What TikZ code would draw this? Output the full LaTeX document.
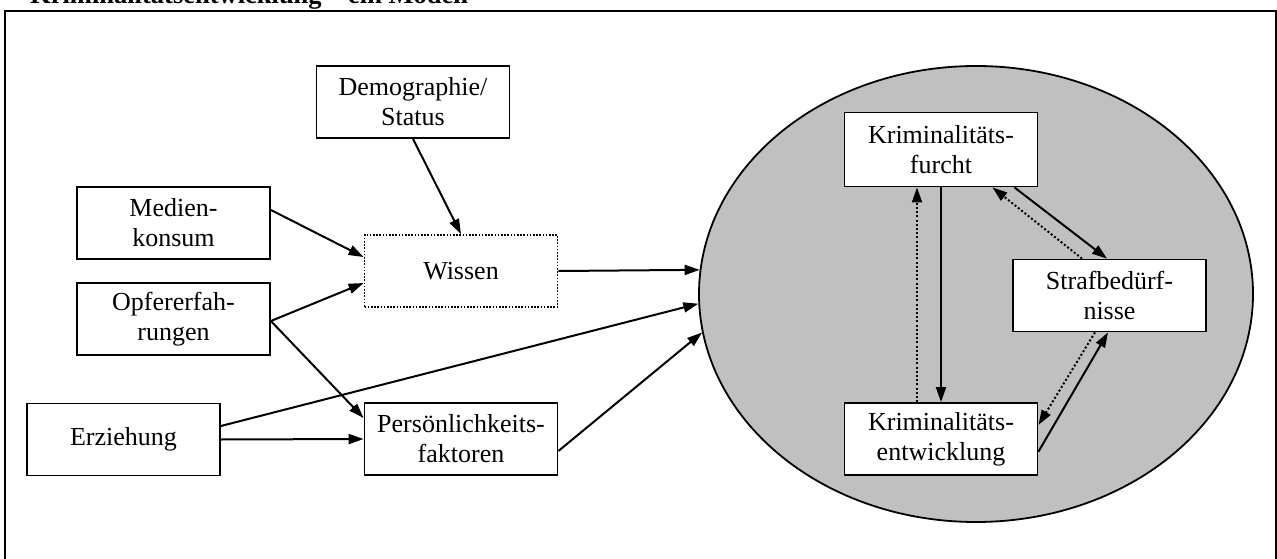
\documentclass[tikz,border=0pt]{standalone}
\usepackage{fontspec}
\setmainfont{Liberation Serif}
\usetikzlibrary{arrows.meta,shapes.geometric}
\definecolor{ellgray}{RGB}{192,192,192}
\tikzset{
  box/.style={draw, line width=1.8pt, fill=white, rectangle, inner sep=0pt,
    minimum width=193pt, minimum height=72pt, align=center,
    font=\fontsize{26}{30}\selectfont},
  dotbox/.style={box, dash pattern=on 1.6pt off 1.6pt},
  arr/.style={line width=2pt, -{Triangle[length=15pt,width=10pt]}},
  darr/.style={arr, dash pattern=on 2pt off 2.2pt},
}
\begin{document}
\begin{tikzpicture}[x=1pt,y=-1pt]
\clip (0,0) rectangle (1277,559);
\node[anchor=base west, inner sep=0pt, font=\fontsize{26.5}{30}\selectfont\bfseries] (title) at (30,3.5) {Kriminalitätsentwicklung – ein Modell};
\draw[line width=1.8pt] (5,11) rectangle (1276,575);
% ellipse
\node[draw, ellipse, line width=1.8pt, fill=ellgray, inner sep=0pt, minimum width=554pt, minimum height=456pt] (ell) at (976,294) {};
% nodes
\node[box] (demo) at (413,102) {Demographie/\\Status};
\node[box] (medien) at (173.5,223) {Medien-\\konsum};
\node[box] (opfer) at (173.5,319) {Opfererfah-\\rungen};
\node[dotbox] (wissen) at (461,271) {Wissen};
\node[box] (erz) at (123.5,439.5) {Erziehung};
\node[box] (pers) at (461,439) {Persönlichkeits-\\faktoren};
\node[box, minimum height=74pt] (furcht) at (941,149.5) {Kriminalitäts-\\furcht};
\node[box] (straf) at (1109.5,295.5) {Strafbedürf-\\nisse};
\node[box] (entw) at (941,439) {Kriminalitäts-\\entwicklung};
% left connectors
\draw[arr] (demo.south) -- (wissen.north);
\draw[arr] ([yshift=13pt]medien.east) -- ([yshift=14pt]wissen.west);
\draw[arr] ([yshift=-2pt]opfer.east) -- ([yshift=-12pt]wissen.west);
\draw[arr] ([yshift=-2pt]opfer.east) -- ([yshift=21pt]pers.west);
\draw[arr] (erz.east) -- (pers.west);
\draw[arr] ([yshift=13.5pt]erz.east) -- (ell.182.7);
\draw[arr] (wissen.east) -- (ell.175.4);
\draw[arr] ([yshift=-12pt]pers.east) -- (ell.188.5);
% right cluster
\draw[arr] (furcht.south) -- (entw.north);
\draw[darr] ([xshift=-24pt]entw.north) -- ([xshift=-24pt]furcht.south);
\draw[arr] ([xshift=-24pt]furcht.south east) -- ([xshift=-2.5pt]straf.north);
\draw[darr] ([xshift=-27.5pt]straf.north) -- ([xshift=-46pt]furcht.south east);
\draw[arr] ([yshift=-12.7pt]entw.east) -- ([xshift=-1.5pt]straf.south);
\draw[darr] ([xshift=-14.5pt]straf.south) -- ([yshift=14pt]entw.east);
\end{tikzpicture}
\end{document}
